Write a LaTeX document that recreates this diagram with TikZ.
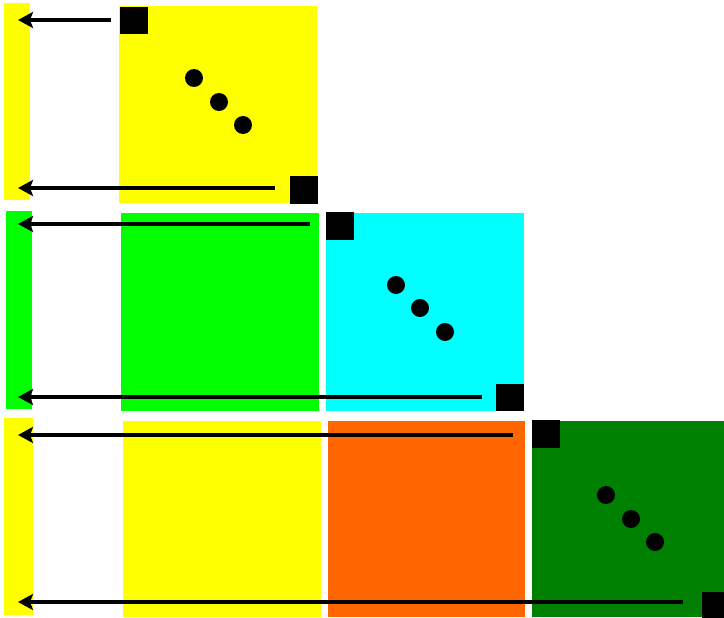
\documentclass[tikz,border=0pt]{standalone}
\usetikzlibrary{arrows.meta}
\definecolor{pyellow}{RGB}{255,255,0}
\definecolor{pgreen}{RGB}{0,255,0}
\definecolor{pcyan}{RGB}{0,255,255}
\definecolor{orng}{RGB}{255,102,0}
\definecolor{dgreen}{RGB}{0,128,0}
\tikzset{
  cell/.style={inner sep=0,outer sep=0,anchor=north west},
  blk/.style={cell,fill=black,minimum width=28,minimum height=28},
  dot/.style={circle,fill=black,inner sep=0,minimum size=18},
  arr/.style={arrows={-Stealth[length=15,width=16,inset=3]},line width=4}
}
\begin{document}
\begin{tikzpicture}[x=1pt,y=-1pt]
  \useasboundingbox (0,0) rectangle (724,618);

  \node[cell,fill=pyellow,minimum width=26,minimum height=197] (strip1) at (4,3) {};
  \node[cell,fill=pyellow,minimum width=198,minimum height=197] (y1) at (119,6) {};
  \node[blk,minimum height=27] (b1a) at (120,7) {};
  \node[blk] (b1b) at (290,176) {};
  \node[dot] (d1a) at (194,78) {};
  \node[dot] (d1b) at (219,102) {};
  \node[dot] (d1c) at (243,125) {};

  \node[cell,fill=pgreen,minimum width=26,minimum height=198] (strip2) at (6,211) {};
  \node[cell,fill=pgreen,minimum width=198,minimum height=198] (g2) at (121,213) {};
  \node[cell,fill=pcyan,minimum width=198,minimum height=198] (c2) at (326,213) {};
  \node[blk] (b2a) at (326,212) {};
  \node[blk,minimum height=27] (b2b) at (496,384) {};
  \node[dot] (d2a) at (396,285) {};
  \node[dot] (d2b) at (420,308) {};
  \node[dot] (d2c) at (445,332) {};

  \node[cell,fill=pyellow,minimum width=29,minimum height=197] (strip3) at (4,418) {};
  \node[cell,fill=pyellow,minimum width=198,minimum height=196] (y3) at (123,421) {};
  \node[cell,fill=orng,minimum width=197,minimum height=196] (o3) at (328,421) {};
  \node[cell,fill=dgreen,minimum width=192,minimum height=196] (dg3) at (532,421) {};
  \node[blk] (b3a) at (532,420) {};
  \node[blk,minimum width=22,minimum height=26] (b3b) at (702,592) {};
  \node[dot] (d3a) at (606,495) {};
  \node[dot] (d3b) at (631,519) {};
  \node[dot] (d3c) at (655,542) {};

  \coordinate (s1a) at (111,20);  \coordinate (t1a) at (18,20);
  \coordinate (s1b) at (275,188); \coordinate (t1b) at (18,188);
  \coordinate (s2a) at (310,224); \coordinate (t2a) at (18,224);
  \coordinate (s2b) at (482,397); \coordinate (t2b) at (18,397);
  \coordinate (s3a) at (513,435); \coordinate (t3a) at (18,435);
  \coordinate (s3b) at (683,602); \coordinate (t3b) at (18,602);

  \draw[arr] (s1a) -- (t1a);
  \draw[arr] (s1b) -- (t1b);
  \draw[arr] (s2a) -- (t2a);
  \draw[arr] (s2b) -- (t2b);
  \draw[arr] (s3a) -- (t3a);
  \draw[arr] (s3b) -- (t3b);
\end{tikzpicture}
\end{document}
